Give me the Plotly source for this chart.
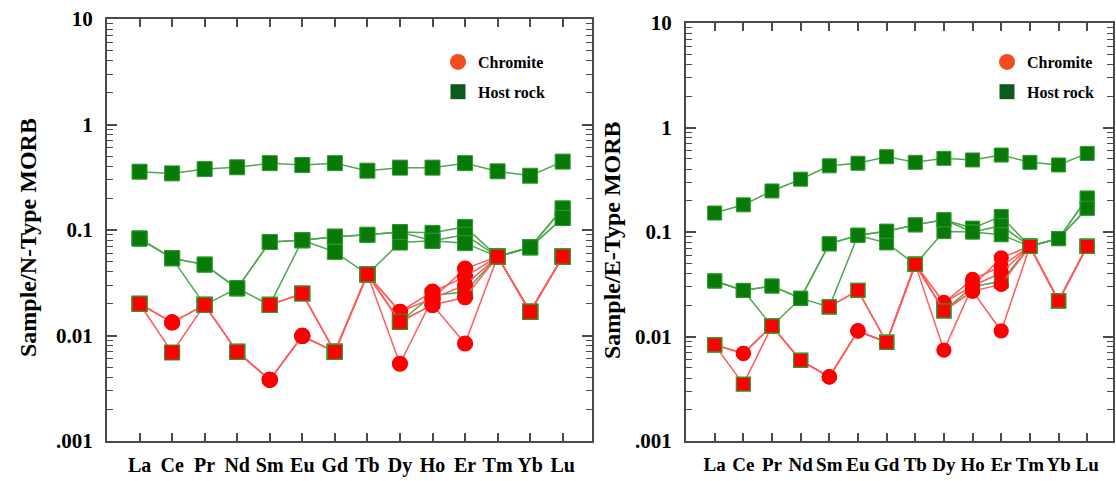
import plotly.graph_objects as go

ELEMENTS = ["La", "Ce", "Pr", "Nd", "Sm", "Eu", "Gd", "Tb", "Dy", "Ho", "Er", "Tm", "Yb", "Lu"]
Y_TICK_VALUES = [0.001, 0.01, 0.1, 1, 10]
Y_TICK_LABELS = [".001", "0.01", "0.1", "1", "10"]
N = None

# ---- Left panel: Sample / N-Type MORB ----
N_CHROMITE_1 = [0.020, 0.0133, 0.0195, 0.0070, 0.0038, 0.0099, 0.0070, 0.038, 0.0054, 0.0225, 0.043, 0.056, 0.0168, 0.056]
N_CHROMITE_2 = [0.020, 0.0069, 0.0195, 0.0070, 0.0038, 0.0099, 0.0070, 0.038, 0.0168, 0.026, 0.036, 0.056, 0.0168, 0.056]
N_CHROMITE_3 = [N, N, N, N, 0.0195, 0.025, 0.0070, 0.038, 0.0135, 0.0195, 0.0084, 0.056, 0.0168, 0.056]
N_CHROMITE_4 = [0.020, 0.0133, 0.0195, 0.0070, 0.0038, 0.0099, 0.0070, 0.038, 0.0168, 0.0225, 0.030, 0.056, 0.0168, 0.056]
N_CHROMITE_5 = [N, N, N, N, 0.0195, 0.025, 0.0070, 0.038, 0.0135, 0.0195, 0.023, 0.056, 0.0168, 0.056]

N_HOST_1 = [0.357, 0.344, 0.378, 0.393, 0.43, 0.413, 0.43, 0.365, 0.39, 0.39, 0.43, 0.36, 0.327, 0.445]
N_HOST_2 = [0.083, 0.054, 0.047, 0.028, 0.077, 0.080, 0.0865, 0.090, 0.0955, 0.094, 0.107, 0.056, 0.0686, 0.16]
N_HOST_3 = [0.083, 0.054, 0.0195, 0.028, 0.0195, 0.080, 0.062, 0.038, 0.076, 0.079, 0.090, 0.056, 0.0686, 0.13]
N_HOST_4 = [0.083, 0.054, 0.047, 0.028, 0.077, 0.080, 0.0865, 0.090, 0.0955, 0.079, 0.075, 0.056, 0.0686, 0.16]
N_HOST_5 = [N, N, N, N, N, N, N, 0.038, 0.0135, 0.024, 0.026, 0.056, 0.0686, 0.13]

# ---- Right panel: Sample / E-Type MORB ----
E_CHROMITE_1 = [0.0083, 0.0069, 0.0126, 0.0059, 0.0041, 0.0113, 0.0088, 0.049, 0.0074, 0.0304, 0.0565, 0.073, 0.0219, 0.073]
E_CHROMITE_2 = [0.0083, 0.0035, 0.0126, 0.0059, 0.0041, 0.0113, 0.0088, 0.049, 0.0211, 0.0352, 0.047, 0.073, 0.0219, 0.073]
E_CHROMITE_3 = [N, N, N, N, 0.0192, 0.0276, 0.0088, 0.049, 0.0176, 0.0272, 0.0113, 0.073, 0.0219, 0.073]
E_CHROMITE_4 = [0.0083, 0.0069, 0.0126, 0.0059, 0.0041, 0.0113, 0.0088, 0.049, 0.0211, 0.0304, 0.0407, 0.073, 0.0219, 0.073]
E_CHROMITE_5 = [N, N, N, N, 0.0192, 0.0276, 0.0088, 0.049, 0.0176, 0.0272, 0.0315, 0.073, 0.0219, 0.073]

E_HOST_1 = [0.152, 0.182, 0.247, 0.32, 0.43, 0.455, 0.525, 0.464, 0.507, 0.489, 0.545, 0.464, 0.438, 0.565]
E_HOST_2 = [0.034, 0.0276, 0.0304, 0.0232, 0.077, 0.093, 0.1016, 0.117, 0.131, 0.109, 0.141, 0.073, 0.0865, 0.211]
E_HOST_3 = [0.034, 0.0276, 0.0126, 0.0232, 0.0192, 0.093, 0.0786, 0.049, 0.101, 0.100, 0.115, 0.073, 0.0865, 0.169]
E_HOST_4 = [0.034, 0.0276, 0.0304, 0.0232, 0.077, 0.093, 0.1016, 0.117, 0.131, 0.100, 0.094, 0.073, 0.0865, 0.211]
E_HOST_5 = [N, N, N, N, N, N, N, 0.049, 0.0176, 0.030, 0.0338, 0.073, 0.0865, 0.169]

# ---- marker shape styles for the chromite profiles ----
S, C = "square", "circle"
SYM_A = [S, C, S, S, C, C, S, S, C, C, C, S, S, S]
SYM_B = [S, S, S, S, C, C, S, S, C, C, C, S, S, S]
SYM_C = [S, S, S, S, S, S, S, S, S, C, C, S, S, S]

RED = "#ff0000"
RED_LINE = "#ff5c5c"
GREEN = "#077a07"
GREEN_EDGE = "#2e9a2e"
GREEN_LINE = "#4fa84f"
SERIF = "Liberation Serif"

fig = go.Figure()


def host(vals, xa, ya, size):
    fig.add_trace(go.Scatter(
        x=ELEMENTS, y=vals, xaxis=xa, yaxis=ya, mode="lines+markers",
        line=dict(color=GREEN_LINE, width=1.5),
        marker=dict(symbol="square", size=size, color=GREEN,
                    line=dict(color=GREEN_EDGE, width=1)),
        showlegend=False, hoverinfo="skip"))


def chromite(vals, syms, xa, ya, size):
    edge = [GREEN_EDGE if s == S else RED for s in syms]
    fig.add_trace(go.Scatter(
        x=ELEMENTS, y=vals, xaxis=xa, yaxis=ya, mode="lines+markers",
        line=dict(color=RED_LINE, width=1.5),
        marker=dict(symbol=syms, size=size, color=RED,
                    line=dict(color=edge, width=1.2)),
        showlegend=False, hoverinfo="skip"))


for v in [N_HOST_1, N_HOST_2, N_HOST_3, N_HOST_4, N_HOST_5]:
    host(v, "x", "y", 15)
for v, s in [(N_CHROMITE_1, SYM_A), (N_CHROMITE_2, SYM_B), (N_CHROMITE_3, SYM_C),
             (N_CHROMITE_4, SYM_A), (N_CHROMITE_5, SYM_C)]:
    chromite(v, s, "x", "y", 15)

for v in [E_HOST_1, E_HOST_2, E_HOST_3, E_HOST_4, E_HOST_5]:
    host(v, "x2", "y2", 14)
for v, s in [(E_CHROMITE_1, SYM_A), (E_CHROMITE_2, SYM_B), (E_CHROMITE_3, SYM_C),
             (E_CHROMITE_4, SYM_A), (E_CHROMITE_5, SYM_C)]:
    chromite(v, s, "x2", "y2", 14)

# legend-only entries
for lg, xa, ya in [("legend", "x", "y"), ("legend2", "x2", "y2")]:
    fig.add_trace(go.Scatter(x=[None], y=[None], xaxis=xa, yaxis=ya, mode="markers",
                             name="Chromite", legend=lg, legendgroup=lg + "c",
                             marker=dict(symbol="circle", size=16, color="#f04e1e")))
    fig.add_trace(go.Scatter(x=[None], y=[None], xaxis=xa, yaxis=ya, mode="markers",
                             name="Host rock", legend=lg, legendgroup=lg + "h",
                             marker=dict(symbol="square", size=15, color="#0b5c1c")))

minor_vals = [m * 10 ** e for e in range(-3, 1) for m in range(2, 10)]

AX_COLOR = "#4a4a4a"


def xaxis(domain, anchor, size):
    return dict(domain=domain, anchor=anchor, type="category", range=[-1, 13.9],
                showline=True, linecolor=AX_COLOR, linewidth=2, mirror="ticks",
                ticks="inside", ticklen=8, tickcolor=AX_COLOR, tickwidth=1.5,
                showgrid=False, zeroline=False, ticklabelstandoff=5, automargin=False,
                tickfont=dict(family=SERIF, size=size, color="black", weight="bold"))


def yaxis(domain, anchor):
    return dict(domain=domain, anchor=anchor, type="log", range=[-3, 1],
                tickvals=Y_TICK_VALUES, ticktext=Y_TICK_LABELS,
                showline=True, linecolor=AX_COLOR, linewidth=2, mirror="ticks",
                ticks="inside", ticklen=10, tickcolor=AX_COLOR, tickwidth=1.5,
                minor=dict(tickvals=minor_vals, ticks="inside", ticklen=6,
                           tickcolor=AX_COLOR, tickwidth=1.2, showgrid=False),
                showgrid=False, zeroline=False, ticklabelstandoff=8, automargin=False,
                tickfont=dict(family=SERIF, size=21, color="black", weight="bold"))


W, H = 1116, 481
fig.update_layout(
    width=W, height=H, autosize=False,
    margin=dict(l=0, r=0, t=0, b=0),
    paper_bgcolor="white", plot_bgcolor="white",
    xaxis=xaxis([107 / W, 592 / W], "y", 20),
    yaxis=yaxis([1 - 441 / H, 1 - 19 / H], "x"),
    xaxis2=xaxis([686 / W, 1113 / W], "y2", 19),
    yaxis2=yaxis([1 - 441 / H, 1 - 23 / H], "x2"),
    legend=dict(x=438 / W, y=1 - 45 / H, xanchor="left", yanchor="top",
                bgcolor="rgba(0,0,0,0)", tracegroupgap=6,
                font=dict(family=SERIF, size=16, color="black", weight="bold")),
    legend2=dict(x=987 / W, y=1 - 45 / H, xanchor="left", yanchor="top",
                 bgcolor="rgba(0,0,0,0)", tracegroupgap=6,
                 font=dict(family=SERIF, size=16, color="black", weight="bold")),
    annotations=[
        dict(text="Sample/N-Type MORB", x=28 / W, y=1 - 238 / H, xref="paper", yref="paper",
             textangle=-90, showarrow=False, xanchor="center", yanchor="middle",
             font=dict(family=SERIF, size=24, color="black", weight="bold")),
        dict(text="Sample/E-Type MORB", x=612 / W, y=1 - 240 / H, xref="paper", yref="paper",
             textangle=-90, showarrow=False, xanchor="center", yanchor="middle",
             font=dict(family=SERIF, size=24, color="black", weight="bold")),
    ],
)

fig.write_html("out.html")
